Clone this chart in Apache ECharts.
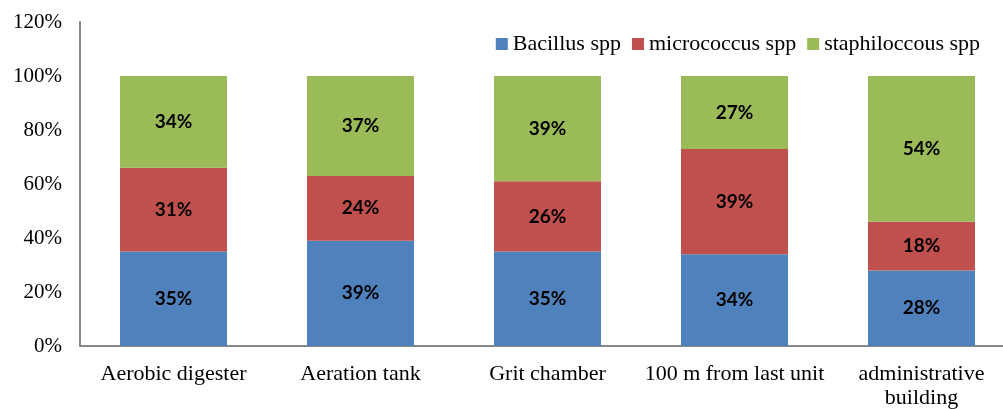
<!DOCTYPE html>
<html>
<head>
<meta charset="utf-8">
<script src="https://cdn.jsdelivr.net/npm/echarts@6/dist/echarts.min.js"></script>
<style>
  html, body { margin: 0; padding: 0; background: #fff; }
  #chart { width: 1003px; height: 409px; }
</style>
</head>
<body>
<div id="chart"></div>
<script>
const categories = ['Aerobic digester', 'Aeration tank', 'Grit chamber', '100 m from last unit', 'administrative\nbuilding'];
const bacillus = [35, 39, 35, 34, 28];
const micrococcus = [31, 24, 26, 39, 18];
const staphiloccous = [34, 37, 39, 27, 54];
const yTicks = [0, 20, 40, 60, 80, 100, 120];

const chart = echarts.init(document.getElementById('chart'));

// bold percentage labels inside the segments
const labelOption = {
  show: true,
  position: 'inside',
  formatter: '{c}%',
  color: '#000',
  fontWeight: 'bold',
  fontSize: 19,
  fontFamily: 'Lato'
};

const makeSeries = (name, data, color) => ({
  name: name,
  type: 'bar',
  stack: 'total',
  barWidth: 107,
  itemStyle: { color: color },
  label: labelOption,
  data: data
});

chart.setOption({
  animation: false,
  textStyle: { fontFamily: 'Liberation Serif' },
  legend: {
    right: 18,
    top: 28,
    itemWidth: 12,
    itemHeight: 12,
    itemGap: 11,
    icon: 'rect',
    textStyle: { fontSize: 22, color: '#000', fontFamily: 'Liberation Serif' },
    data: ['Bacillus spp', 'micrococcus spp', 'staphiloccous spp']
  },
  // the plot runs past the right edge of the picture, as in the original
  grid: { left: 80, right: -12, top: 22, bottom: 63, containLabel: false, outerBoundsMode: 'none' },
  xAxis: {
    type: 'category',
    data: categories,
    axisLine: { lineStyle: { color: '#888', width: 2 } },
    axisTick: { show: false },
    axisLabel: { color: '#000', fontSize: 22, margin: 16, lineHeight: 24, fontFamily: 'Liberation Serif', interval: 0 }
  },
  yAxis: {
    type: 'value',
    min: yTicks[0],
    max: yTicks[yTicks.length - 1],
    interval: 20,
    axisLine: { show: true, lineStyle: { color: '#888', width: 2 } },
    axisTick: { show: false },
    splitLine: { show: false },
    axisLabel: { color: '#000', fontSize: 21, margin: 18, formatter: '{value}%', fontFamily: 'Liberation Serif' }
  },
  series: [
    makeSeries('Bacillus spp', bacillus, '#4F81BD'),
    makeSeries('micrococcus spp', micrococcus, '#C0504D'),
    makeSeries('staphiloccous spp', staphiloccous, '#9BBB59')
  ]
});
</script>
</body>
</html>
